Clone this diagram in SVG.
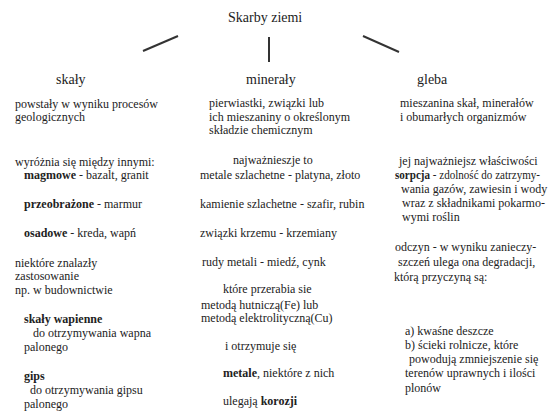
<svg xmlns="http://www.w3.org/2000/svg" width="550" height="420" viewBox="0 0 550 420" font-family="'Liberation Serif', 'Times New Roman', 'DejaVu Serif', serif">
<style>
text{font-family:'Liberation Serif','Times New Roman','DejaVu Serif',serif;fill:#222;}
.h{font-size:14px;}
.t{font-size:12px;}
.b{font-weight:bold;}
.c{stroke:#333;stroke-width:2;fill:none;}
</style>
<rect width="550" height="420" fill="#fff"/>
<g id="connectors">
<line class="c" x1="143" y1="51" x2="178" y2="36"/>
<line class="c" x1="269" y1="37" x2="269" y2="62"/>
<line class="c" x1="363" y1="36" x2="399" y2="52"/>
</g>
<g id="root">
<text class="h" x="228" y="22">Skarby ziemi</text>
</g>
<g id="skaly">
<text class="h" x="56" y="84">skały</text>
<text class="t" x="15" y="108">powstały w wyniku procesów</text>
<text class="t" x="15" y="121">geologicznych</text>
<text class="t" x="15" y="166">wyróżnia się między innymi:</text>
<text class="t" x="24" y="179"><tspan class="b">magmowe</tspan> - bazalt, granit</text>
<text class="t" x="24" y="208"><tspan class="b">przeobrażone</tspan> - marmur</text>
<text class="t" x="24" y="237"><tspan class="b">osadowe</tspan> - kreda, wapń</text>
<text class="t" x="15" y="267">niektóre znalazły</text>
<text class="t" x="15" y="280">zastosowanie</text>
<text class="t" x="15" y="294">np. w budownictwie</text>
<text class="t b" x="24" y="323">skały wapienne</text>
<text class="t" x="33" y="337">do otrzymywania wapna</text>
<text class="t" x="24" y="351">palonego</text>
<text class="t b" x="24" y="380">gips</text>
<text class="t" x="30" y="394">do otrzymywania gipsu</text>
<text class="t" x="24" y="408">palonego</text>
</g>
<g id="mineraly">
<text class="h" x="246" y="84">minerały</text>
<text class="t" x="209" y="107">pierwiastki, związki lub</text>
<text class="t" x="209" y="121">ich mieszaniny o określonym</text>
<text class="t" x="209" y="134">składzie chemicznym</text>
<text class="t" x="233" y="164">najważnieszje to</text>
<text class="t" x="200" y="179">metale szlachetne - platyna, złoto</text>
<text class="t" x="200" y="208">kamienie szlachetne - szafir, rubin</text>
<text class="t" x="200" y="237">związki krzemu - krzemiany</text>
<text class="t" x="202" y="266">rudy metali - miedź, cynk</text>
<text class="t" x="223" y="293">które przerabia sie</text>
<text class="t" x="201" y="309">metodą hutniczą(Fe) lub</text>
<text class="t" x="201" y="322">metodą elektrolityczną(Cu)</text>
<text class="t" x="225" y="350">i otrzymuje się</text>
<text class="t" x="223" y="377"><tspan class="b">metale</tspan>, niektóre z nich</text>
<text class="t" x="223" y="405">ulegają <tspan class="b">korozji</tspan></text>
</g>
<g id="gleba">
<text class="h" x="417" y="84">gleba</text>
<text class="t" x="400" y="107">mieszanina skał, minerałów</text>
<text class="t" x="400" y="121">i obumarłych organizmów</text>
<text class="t" x="399" y="165">jej najważniejsz właściwości</text>
<text class="t" x="395" y="179" textLength="145" lengthAdjust="spacingAndGlyphs"><tspan class="b">sorpcja</tspan> - zdolność do zatrzymy-</text>
<text class="t" x="401" y="193">wania gazów, zawiesin i wody</text>
<text class="t" x="402" y="207">wraz z składnikami pokarmo-</text>
<text class="t" x="402" y="221">wymi roślin</text>
<text class="t" x="395" y="251">odczyn - w wyniku zanieczy-</text>
<text class="t" x="398" y="266">szczeń ulega ona degradacji,</text>
<text class="t" x="394" y="281">którą przyczyną są:</text>
<text class="t" x="405" y="335">a) kwaśne deszcze</text>
<text class="t" x="405" y="349">b) ścieki rolnicze, które</text>
<text class="t" x="409" y="363">powodują zmniejszenie się</text>
<text class="t" x="405" y="377">terenów uprawnych i ilości</text>
<text class="t" x="405" y="392">plonów</text>
</g>
</svg>
